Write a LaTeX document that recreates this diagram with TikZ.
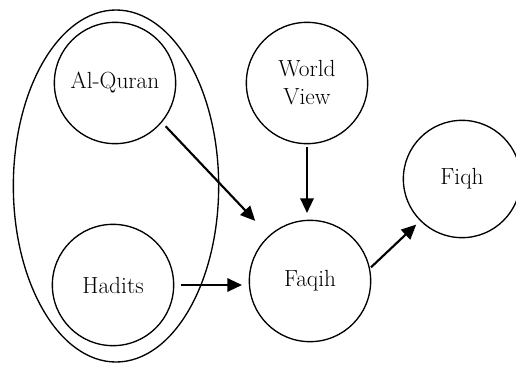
\documentclass[tikz,border=0pt]{standalone}
\usepackage{tikz}
\usetikzlibrary{shapes.geometric,% allows nodes to be ellipses
arrows.meta}%                     Triangle arrow tips
\tikzset{every node/.style={font=\fontsize{17.5}{21}\selectfont},
  source/.style={draw,circle,line width=1pt,minimum size=91pt,inner sep=0pt,align=center},
  link/.style={-{Triangle[length=11pt,width=10pt]},line width=1.6pt}}

\begin{document}
\begin{tikzpicture}[x=0.75pt,y=-0.75pt]
    \useasboundingbox (0,0) rectangle (516,364);
    \node[draw,ellipse,line width=1pt,minimum width=154pt,minimum height=264pt,inner sep=0pt] (group) at (116,186) {};
    \node[source] (quran) at (115,83) {Al-Quran};
    \node[source] (hadits) at (113,285) {Hadits};
    \node[source] (view) at (307,83) {World\\View};
    \node[source] (faqih) at (310,281) {Faqih};
    \node[source,minimum size=88pt] (fiqh) at (462,179) {Fiqh};
    \draw[link,shorten <=4pt,shorten >=15pt] (quran.-40) -- (faqih.132);
    \draw[link,shorten <=5pt,shorten >=5pt] (hadits.east) -- (hadits.east -| faqih.west);
    \draw[link,shorten <=2pt,shorten >=5pt] (view.south) -- (view.south |- faqih.north);
    \draw[link,shorten <=1pt,shorten >=4pt] (faqih.12) -- (fiqh.225);
  \end{tikzpicture}
\end{document}
